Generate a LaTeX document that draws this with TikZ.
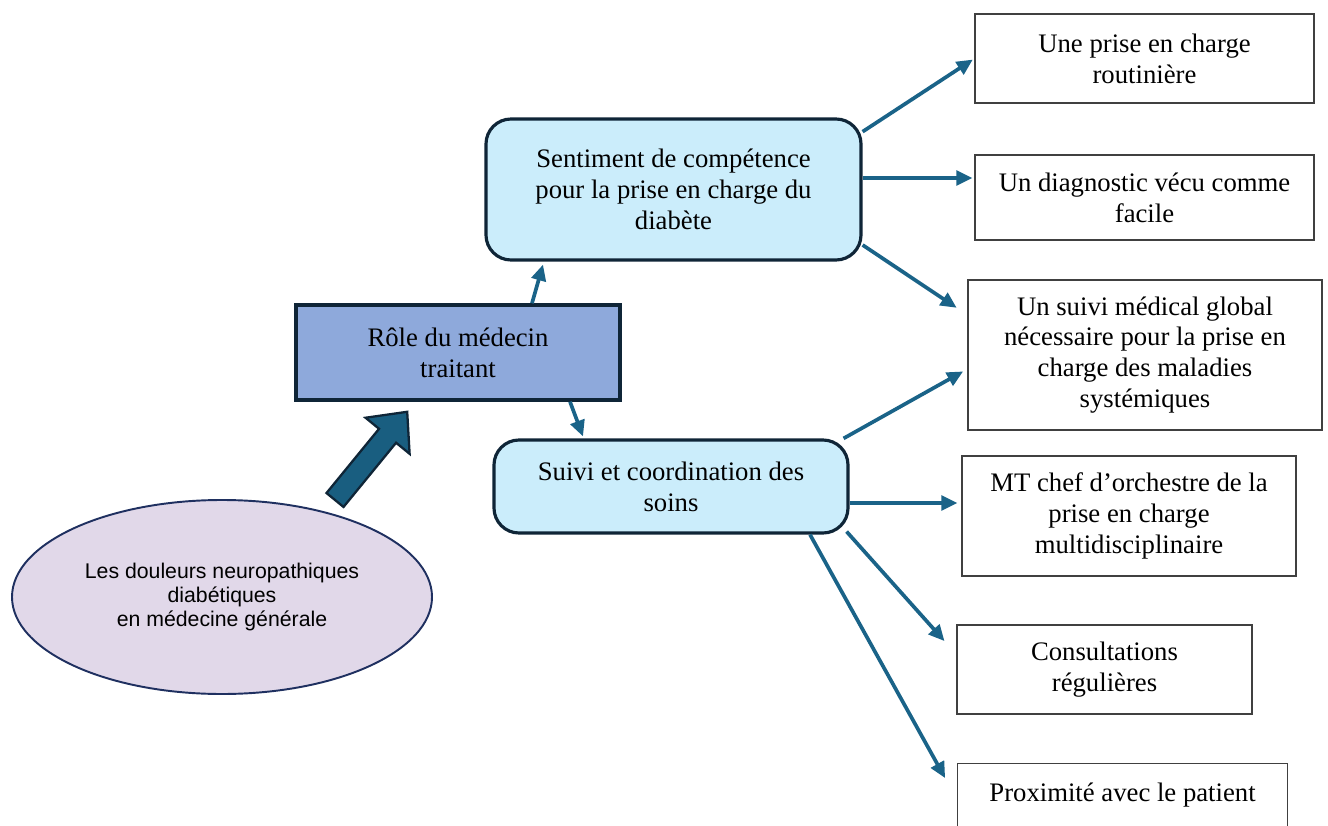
\documentclass[tikz,border=0pt]{standalone}
\usepackage{fontspec}
\setmainfont{Liberation Serif}
\newfontfamily\arialfont{Liberation Sans}
\usetikzlibrary{arrows.meta,calc,shapes.geometric}
\definecolor{connblue}{RGB}{26,99,136}
\definecolor{paleblue}{RGB}{203,237,251}
\definecolor{roleblue}{RGB}{142,169,219}
\definecolor{navyline}{RGB}{15,37,55}
\definecolor{lilac}{RGB}{225,216,233}
\definecolor{ellline}{RGB}{31,48,96}
\definecolor{arrowfill}{RGB}{25,94,128}
\begin{document}
\begin{tikzpicture}[x=1cm, y=1cm,
    every node/.style={font=\fontsize{15.2}{17.6}\selectfont, align=center, inner sep=0pt},
    themebox/.style={draw=navyline, fill=paleblue, line width=1.8pt, rounded corners=0.5cm},
    rolebox/.style={draw=navyline, fill=roleblue, line width=2pt},
    itembox/.style={draw=black!75, fill=white, line width=0.6pt},
    conn/.style={draw=connblue, line width=2.1pt, -{Triangle[length=0.32cm,width=0.29cm]}}]
    \useasboundingbox (0,0) rectangle (26.56,16.5);

    \node[ellipse, draw=ellline, fill=lilac, line width=1.1pt, minimum width=8.4cm, minimum height=3.88cm,
        font=\arialfont\fontsize{12.1}{13.4}\selectfont] (dnd) at (4.44,4.56)
        {Les douleurs neuropathiques\\diabétiques\\en médecine générale};

    \node[rolebox, minimum width=6.48cm, minimum height=1.9cm] (role) at (9.16,9.45) {Rôle du médecin\\traitant};
    \node[themebox, minimum width=7.5cm, minimum height=2.82cm] (sent) at (13.47,12.71)
        {Sentiment de compétence\\pour la prise en charge du\\diabète};
    \node[themebox, minimum width=7.08cm, minimum height=1.86cm] (suivi) at (13.42,6.77)
        {Suivi et coordination des\\soins};

    \node[itembox, minimum width=6.78cm, minimum height=1.78cm] (r1) at (22.89,15.33) {Une prise en charge\\routinière};
    \node[itembox, minimum width=6.78cm, minimum height=1.7cm] (r2) at (22.89,12.55) {Un diagnostic vécu comme\\facile};
    \node[itembox, minimum width=7.08cm, minimum height=3cm] (r3) at (22.9,9.4)
        {Un suivi médical global\\nécessaire pour la prise en\\charge des maladies\\systémiques};
    \node[itembox, minimum width=6.68cm, minimum height=2.4cm] (r4) at (22.58,6.18)
        {MT chef d’orchestre de la\\prise en charge\\multidisciplinaire};
    \node[itembox, minimum width=5.9cm, minimum height=1.78cm] (r5) at (22.09,3.11) {Consultations\\régulières};
    \node[itembox, minimum width=6.6cm, minimum height=1.78cm, anchor=north west] (r6) at (19.14,1.24)
        {Proximité avec le patient\\~};

    \coordinate (s2) at ($(sent.east)+(0,0.23)$);
    \coordinate (s4) at ($(suivi.east)+(0,-0.33)$);

    \begin{scope}[shift={(6.7,6.5)}, rotate=50.7]
        \draw[draw=navyline, fill=arrowfill, line width=1.3pt, line join=miter]
            (0,-0.22)--(1.66,-0.22)--(1.66,-0.57)--(2.28,0)--(1.66,0.57)--(1.66,0.22)--(0,0.22)--cycle;
    \end{scope}

    \draw[conn] ($(role.north)+(1.48,0)$) -- ($(sent.south)+(-2.61,-0.06)$);
    \draw[conn] ($(role.south)+(2.24,0)$) -- ($(suivi.north)+(-1.76,0.04)$);

    \draw[conn, shorten >=0.04cm] (sent.17) -- (r1.west);
    \draw[conn, shorten >=0.04cm] (s2) -- (s2 -| r2.west);
    \draw[conn, shorten >=0.26cm] ($(sent.east)+(0,-1.11)$) -- ($(r3.west)+(0,0.8)$);

    \draw[conn, shorten >=0.1cm] ($(suivi.north east)+(-0.12,0)$) -- ($(r3.west)+(0,-0.28)$);
    \draw[conn, shorten >=0.08cm] (s4) -- (s4 -| r4.west);
    \draw[conn, shorten >=0.36cm] ($(suivi.south east)+(-0.06,0.06)$) -- ($(r5.west)+(0,0.3)$);
    \draw[conn, shorten >=0.49cm] ($(suivi.south)+(2.78,0)$) -- ($(r6.north west)+(0,-0.73)$);

    \end{tikzpicture}
\end{document}
